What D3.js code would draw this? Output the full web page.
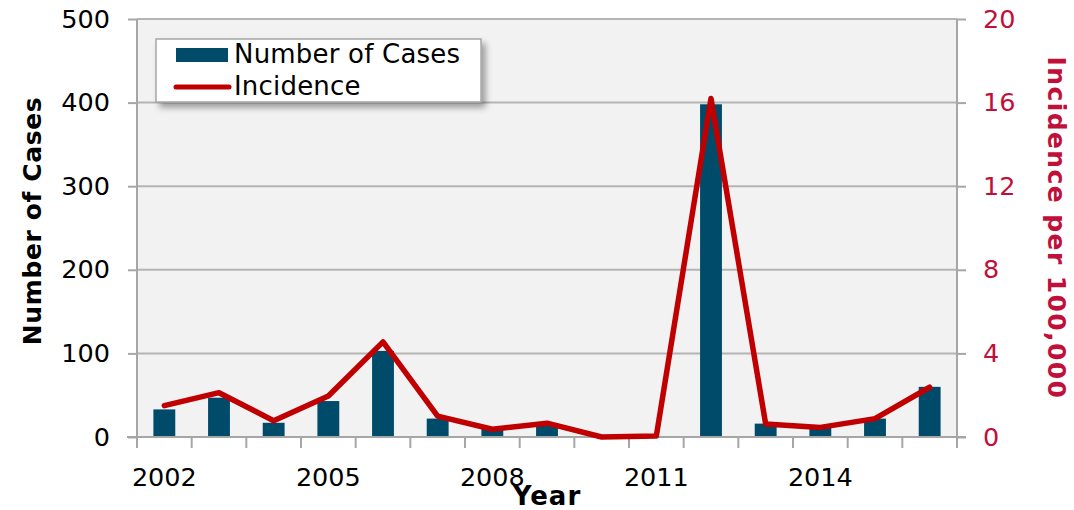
<!DOCTYPE html>
<html><head><meta charset="utf-8">
<script src="https://cdn.jsdelivr.net/npm/d3@7"></script>
<style>body{margin:0;background:#fff}svg{display:block}text{font-family:"DejaVu Sans",Verdana,sans-serif}</style>
</head><body><svg id="c" width="1074" height="510"></svg>
<script>
const years = [2002,2003,2004,2005,2006,2007,2008,2009,2010,2011,2012,2013,2014,2015,2016];
const cases = [33,47,17,43,103,22,10,15,0,1,398,16,12,22,60];
const incidence = [1.5,2.12,0.78,1.96,4.55,1.0,0.37,0.66,0.0,0.05,16.2,0.62,0.46,0.88,2.38];
const leftTicks = [0,100,200,300,400,500];
const rightTicks = [0,4,8,12,16,20];
const xLabels = [2002,2005,2008,2011,2014];

const svg = d3.select("#c");
const L=137, R=957, T=19, B=437;
const x = d3.scaleBand().domain(years).range([L,R]).paddingInner(0).paddingOuter(0);
const yL = d3.scaleLinear().domain([0,500]).range([B,T]);
const yR = d3.scaleLinear().domain([0,20]).range([B,T]);
const grid="#b4b4b4", axisC="#a6a6a6", red="#c00000", lab="#c0103a", bar="#004a6a";
const FS = 25.5;

svg.append("rect").attr("x",L).attr("y",T).attr("width",R-L).attr("height",B-T).attr("fill","#f2f2f2");
svg.append("g").selectAll("line").data(leftTicks.filter(d=>d>0)).join("line")
  .attr("x1",L).attr("x2",R).attr("y1",d=>yL(d)).attr("y2",d=>yL(d)).attr("stroke",grid).attr("stroke-width",2);

// bars
const bw = x.bandwidth()*0.4;
svg.append("g").selectAll("rect").data(years).join("rect")
  .attr("x",(d)=>x(d)+x.bandwidth()/2-bw/2).attr("width",bw)
  .attr("y",(d,i)=>yL(cases[i])).attr("height",(d,i)=>B-yL(cases[i])).attr("fill",bar);

// axes
const gl = svg.append("g").attr("transform",`translate(${L},0)`)
  .call(d3.axisLeft(yL).tickValues(leftTicks).tickSize(9).tickPadding(18));
const gr = svg.append("g").attr("transform",`translate(${R},0)`)
  .call(d3.axisRight(yR).tickValues(rightTicks).tickSize(9).tickPadding(17));
const gx = svg.append("g").attr("transform",`translate(0,${B})`)
  .call(d3.axisBottom(x).tickValues(years).tickSize(0).tickPadding(31).tickFormat(d=>xLabels.includes(d)?String(d):""));
[gl,gr,gx].forEach(g=>{g.selectAll("path").attr("stroke",axisC).attr("stroke-width",2);
  g.selectAll("line").attr("stroke",axisC).attr("stroke-width",2);
  g.selectAll("text").attr("font-size",FS).attr("font-family","DejaVu Sans, Verdana, sans-serif").attr("fill","#000");});
gl.select(".domain").attr("d",`M0,${T}V${B}`);
gr.select(".domain").attr("d",`M0,${T}V${B}`);
gr.selectAll("text").attr("fill",lab);
gx.select(".domain").attr("d",`M${L-10},0H${R+9}`);
// x boundary ticks
const bounds = years.map(d=>x(d)).concat([R]);
gx.append("g").selectAll("line").data(bounds).join("line")
  .attr("x1",d=>d).attr("x2",d=>d).attr("y1",0).attr("y2",11).attr("stroke",axisC).attr("stroke-width",2);

// line
const line = d3.line().x((d,i)=>x(years[i])+x.bandwidth()/2).y(d=>yR(d));
svg.append("path").datum(incidence).attr("d",line).attr("fill","none").attr("stroke",red)
  .attr("stroke-width",5.5).attr("stroke-linejoin","round").attr("stroke-linecap","round");

// titles
svg.append("text").attr("transform","translate(41,221) rotate(-90)").attr("text-anchor","middle")
  .attr("font-size",25).attr("font-weight","bold").attr("letter-spacing",0.6).text("Number of Cases");
svg.append("text").attr("transform","translate(1048,228) rotate(90)").attr("text-anchor","middle")
  .attr("font-size",25).attr("font-weight","bold").attr("letter-spacing",1.4).attr("fill",lab).text("Incidence per 100,000");
svg.append("text").attr("x",547).attr("y",505).attr("text-anchor","middle")
  .attr("font-size",26).attr("font-weight","bold").attr("letter-spacing",1).text("Year");

// legend
const defs = svg.append("defs");
const f = defs.append("filter").attr("id","sh").attr("x","-10%").attr("y","-10%").attr("width","130%").attr("height","140%");
f.append("feDropShadow").attr("dx",4).attr("dy",5).attr("stdDeviation",3).attr("flood-color","#000").attr("flood-opacity",0.35);
const lg = svg.append("g");
lg.append("rect").attr("x",156).attr("y",39).attr("width",325).attr("height",63).attr("fill","#fff")
  .attr("stroke","#a6a6a6").attr("stroke-width",1.5).attr("filter","url(#sh)");
lg.append("rect").attr("x",176).attr("y",48).attr("width",52).attr("height",14).attr("fill",bar);
lg.append("line").attr("x1",176).attr("x2",229).attr("y1",87).attr("y2",87).attr("stroke",red).attr("stroke-width",5).attr("stroke-linecap","round");
lg.append("text").attr("x",234).attr("y",63).attr("font-size",26).attr("letter-spacing",0.2).text("Number of Cases");
lg.append("text").attr("x",234).attr("y",95).attr("font-size",26).attr("letter-spacing",0.2).text("Incidence");
</script></body></html>
